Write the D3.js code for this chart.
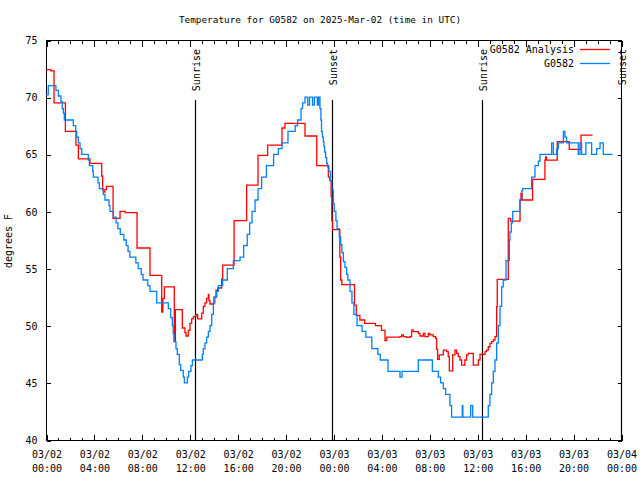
<!DOCTYPE html>
<html><head><meta charset="utf-8">
<script src="https://cdn.jsdelivr.net/npm/d3@7"></script>
<style>
body{margin:0;background:#fff}
text{font-family:"DejaVu Sans Mono",monospace;font-size:10px;fill:#000}
</style></head>
<body><svg id="c" width="640" height="480"></svg>
<script>
// ---- data (hours since 2025-03-02 00:00 UTC) ----
const title = "Temperature for G0582 on 2025-Mar-02 (time in UTC)";
const yLabel = "degrees F";
const seriesNames = ["G0582 Analysis", "G0582"];
const seriesColors = ["#ff0000", "#0080ff"];
const xTickHours = [0,4,8,12,16,20,24,28,32,36,40,44,48];
const xTickDates = ["03/02","03/02","03/02","03/02","03/02","03/02","03/03","03/03","03/03","03/03","03/03","03/03","03/04"];
const xTickTimes = ["00:00","04:00","08:00","12:00","16:00","20:00","00:00","04:00","08:00","12:00","16:00","20:00","00:00"];
const yTicks = [40,45,50,55,60,65,70,75];
const eventHours = [12.44, 23.9, 36.42, 47.97];
const eventNames = ["Sunrise","Sunset","Sunrise","Sunset"];

// Analysis (red) step points [hour, degF]
const anaHours = [0,0.4,0.67,1.62,2.5,2.7,3.67,4.65,4.73,4.79,4.92,5.05,5.6,6.18,6.6,7.6,8.68,9.66,9.75,9.88,10.71,10.8,11.38,11.6,11.69,11.88,12.02,12.16,12.3,12.52,12.66,13.0,13.13,13.27,13.41,13.55,13.6,13.69,14.02,14.19,14.33,14.66,14.75,15.7,16.75,17.7,18.5,19.7,19.95,21.62,22.6,23.57,23.7,23.8,23.86,23.92,24.53,24.6,24.7,25.75,25.9,26.2,26.6,27.5,28.0,28.3,28.45,28.6,29.55,29.69,29.83,30.1,30.38,30.52,30.66,31.08,31.22,31.5,31.63,31.91,32.05,32.33,32.53,32.61,32.69,32.83,33.17,33.44,33.58,33.67,33.95,34.14,34.28,34.42,34.56,34.7,34.97,35.11,35.25,35.67,36.09,36.23,36.65,36.78,36.92,37.06,37.2,37.34,37.48,37.62,37.67,38.59,38.79,39.57,39.65,39.75,40.62,41.65,41.7,41.78,42.68,43.68,44.66,45.63];
const anaTemps = [72.4,72.3,69.5,67.0,65.8,64.6,64.2,63.1,61.9,61.7,61.9,62.2,59.4,60.0,59.9,56.8,54.4,51.2,52.4,53.4,48.6,51.4,49.8,49.4,49.1,49.6,50.2,50.6,50.8,51.0,50.6,51.1,51.7,52.0,52.4,52.75,52.2,51.9,52.5,53.1,53.3,54.1,55.3,59.2,62.3,64.9,65.8,67.3,67.7,66.6,64.0,63.0,62.7,61.3,59.2,58.4,56.0,54.0,53.6,51.8,50.9,50.5,50.2,50.0,49.6,48.7,49.0,49.0,49.04,49.19,49.04,48.98,49.04,49.62,49.48,49.33,49.1,49.33,49.04,49.33,49.19,49.04,48.9,47.93,47.06,47.44,47.87,47.73,47.29,46.04,47.44,47.87,47.58,47.29,47.0,46.56,47.0,47.44,47.58,46.56,47.0,47.5,47.73,47.87,48.16,48.46,48.6,48.75,49.04,51.66,54.06,59.4,59.16,61.0,61.58,61.0,62.8,64.49,64.78,64.49,66.1,65.43,66.68,66.68];

// Observed (blue) step points [hour, degF]
const obsHours = [0,0.19,0.83,1.03,1.25,1.36,1.45,1.53,2.28,2.48,2.56,2.70,2.84,2.98,3.53,3.62,3.90,3.95,4.34,4.45,4.79,4.92,5.26,5.34,5.62,5.85,6.0,6.2,6.5,6.7,6.85,7.0,7.5,7.7,7.95,8.1,8.5,8.68,9.24,10.21,10.41,10.55,10.62,10.69,10.85,10.96,11.13,11.24,11.46,11.55,11.80,11.91,12.10,12.22,13.05,13.13,13.27,13.41,13.55,13.69,13.83,13.97,14.1,14.25,14.39,14.75,15.14,15.64,16.2,16.5,16.8,17.0,17.2,17.45,17.7,18.0,18.4,19.0,19.4,19.7,20.2,20.8,21.0,21.29,21.42,21.62,21.85,22.0,22.25,22.4,22.65,22.75,22.87,22.95,23.0,23.07,23.15,23.2,23.26,23.34,23.43,23.5,23.62,23.76,23.85,23.98,24.06,24.2,24.3,24.48,24.6,24.7,24.82,24.96,25.1,25.2,25.38,25.54,25.7,25.96,26.38,26.7,27.2,27.7,27.9,28.55,29.55,29.72,31.08,32.25,32.75,32.94,33.17,33.36,33.72,33.86,34.75,34.8,35.45,35.62,36.92,37.06,37.2,37.34,37.48,37.62,37.76,37.9,38.04,38.17,38.4,38.68,38.73,38.84,38.96,39.57,39.71,39.79,40.54,40.82,41.1,41.24,42.21,42.35,42.63,42.77,43.19,43.32,43.46,44.43,44.57,44.71,45.07,45.55,45.97,46.25,46.52,47.3];
const obsTemps = [70.2,71,70.6,70.1,69.6,69.0,68.6,68.0,67.5,67.0,66.5,66.0,65.5,65.0,64.5,64.0,63.5,63.0,62.5,62.0,61.5,61.0,60.5,60.0,59.5,59.0,58.5,58.0,57.5,57.0,56.5,56.0,55.5,55.0,54.5,54.0,53.5,53.0,52.0,51.5,50.7,50.0,49.3,48.6,48.0,47.5,46.6,46.1,45.5,45.0,45.5,46.0,46.5,47.0,47.5,48.0,48.5,49.0,49.5,50.0,51.0,52.0,52.5,53.0,53.5,54.0,55.0,55.7,56,57,58,59,60,61,62,63,64,65,65.5,66,67,67.5,68,69,69.5,70,69.3,70,69.3,70,69.3,70,69,68,67,66.5,66.1,65.7,65.2,64.7,64.2,63.9,63.5,62.7,61.9,60.7,60,59.2,58.5,57.8,57.1,56.4,55.6,55.1,54.5,54,53,52,51,50,49.5,49,48,47.5,47,46,45.5,46,47,46,45.5,45,44.5,44,43,42,43,42,43,42,43,44,45,46,47,48.5,50,51.7,53.4,54,55.7,57.5,58.2,59,60,61,61.8,62,63,64,64.4,65,66,65,65.5,66,67,66.5,66,65,66,65,66,65,65.5,66,65,65];

// ---- layout ----
const svg = d3.select("#c");
const M = {l:46, r:621, t:40, b:440};
const x = d3.scaleLinear().domain([0,48]).range([M.l, M.r]);
const y = d3.scaleLinear().domain([40,75]).range([M.b, M.t]);

svg.append("text").attr("x",320).attr("y",23).attr("text-anchor","middle").style("font-size","9.4px").text(title);
svg.append("text").attr("transform","translate(12,241) rotate(-90)").attr("text-anchor","middle").text(yLabel);

// frame
svg.append("rect").attr("x",M.l+0.5).attr("y",M.t+0.5).attr("width",M.r-M.l).attr("height",M.b-M.t)
  .attr("fill","none").attr("stroke","#000").attr("stroke-width",1);

const minorHours = d3.range(0,49);
function styleAxis(g){ g.select(".domain").remove(); g.selectAll("line").attr("stroke","#000").attr("shape-rendering","crispEdges"); }

// bottom / top minor + major ticks
svg.append("g").attr("transform",`translate(0.5,${M.b+0.5})`).call(d3.axisBottom(x).tickValues(minorHours).tickSize(-3).tickFormat("")).call(styleAxis);
svg.append("g").attr("transform",`translate(0.5,${M.t+0.5})`).call(d3.axisTop(x).tickValues(minorHours).tickSize(-3).tickFormat("")).call(styleAxis);
svg.append("g").attr("transform",`translate(0.5,${M.t+0.5})`).call(d3.axisTop(x).tickValues(xTickHours).tickSize(-6).tickFormat("")).call(styleAxis);
const xb = svg.append("g").attr("transform",`translate(0.5,${M.b+0.5})`)
  .call(d3.axisBottom(x).tickValues(xTickHours).tickSize(-6).tickPadding(9).tickFormat(""));
styleAxis(xb);
xb.selectAll(".tick text").each(function(d,i){
  const t = d3.select(this).attr("dy",null).attr("y",null);
  t.append("tspan").attr("x",0).attr("y",17).text(xTickDates[i]);
  t.append("tspan").attr("x",0).attr("y",31).text(xTickTimes[i]);
});
xb.selectAll("text").attr("fill","#000").style("font-family",'"DejaVu Sans Mono",monospace').style("font-size","10px");

const yl = svg.append("g").attr("transform",`translate(${M.l+0.5},0.5)`)
  .call(d3.axisLeft(y).tickValues(yTicks).tickSize(-4).tickPadding(9));
styleAxis(yl);
yl.selectAll("text").attr("fill","#000").style("font-family",'"DejaVu Sans Mono",monospace').style("font-size","10px");
svg.append("g").attr("transform",`translate(${M.r+0.5},0.5)`).call(d3.axisRight(y).tickValues(yTicks).tickSize(-4).tickFormat("")).call(styleAxis);

// sunrise / sunset markers
eventHours.forEach((h,i)=>{
  const ex = Math.round(x(h))+0.5;
  svg.append("line").attr("x1",ex).attr("x2",ex).attr("y1",100).attr("y2",M.b).attr("stroke","#000").attr("stroke-width",1.2);
  svg.append("text").attr("transform",`translate(${ex+4},49) rotate(-90)`).attr("text-anchor","end").text(eventNames[i]);
});

// series
const line = d3.line().x(d=>x(d[0])).y(d=>y(d[1])).curve(d3.curveStepAfter);
const ana = anaHours.map((h,i)=>[h,anaTemps[i]]);
const obs = obsHours.map((h,i)=>[h,obsTemps[i]]);
svg.append("path").datum(ana).attr("d",line).attr("fill","none").attr("stroke",seriesColors[0]).attr("stroke-width",1.3);
svg.append("path").datum(obs).attr("d",line).attr("fill","none").attr("stroke",seriesColors[1]).attr("stroke-width",1.3);

// legend
seriesNames.forEach((n,i)=>{
  const ly = 49 + i*14;
  svg.append("text").attr("x",574).attr("y",ly+4).attr("text-anchor","end").text(n);
  svg.append("line").attr("x1",580).attr("x2",610).attr("y1",ly+0.5).attr("y2",ly+0.5).attr("stroke",seriesColors[i]).attr("stroke-width",1.3);
});
</script></body></html>
